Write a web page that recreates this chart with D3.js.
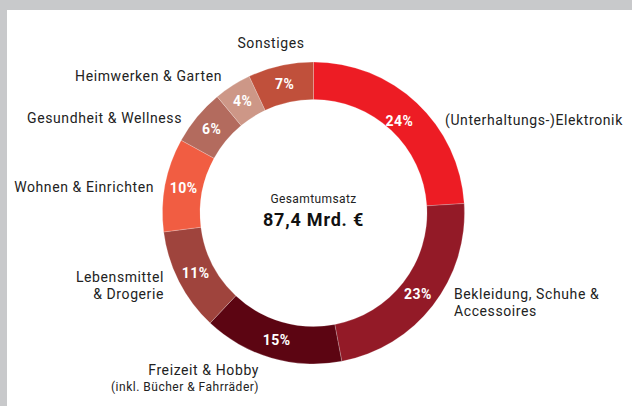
<!DOCTYPE html>
<html>
<head>
<meta charset="utf-8">
<script src="https://cdn.jsdelivr.net/npm/d3@7"></script>
<style>
	html, body { margin: 0; padding: 0; background: #c8c9cb; }
	svg { display: block; }
	text { font-family: Roboto, "DejaVu Sans", sans-serif; }
</style>
</head>
<body>
<svg id="chart" width="632" height="406"></svg>
<script>

// Umsatzanteile in Prozent, im Uhrzeigersinn ab 12 Uhr
var categories = [
	'(Unterhaltungs-)Elektronik',
	'Bekleidung, Schuhe & Accessoires',
	'Freizeit & Hobby',
	'Lebensmittel & Drogerie',
	'Wohnen & Einrichten',
	'Gesundheit & Wellness',
	'Heimwerken & Garten',
	'Sonstiges'
];
var shares = [24, 23, 15, 11, 10, 6, 4, 7];
var colors = ['#ed1c24', '#931a27', '#5c0512', '#9f443d', '#f15d42', '#b36b5e', '#cd9787', '#c0503b'];

// Beschriftungszeilen je Segment
var labelLines = [
	['(Unterhaltungs-)Elektronik'],
	['Bekleidung, Schuhe &', 'Accessoires'],
	['Freizeit & Hobby'],
	['Lebensmittel', '& Drogerie'],
	['Wohnen & Einrichten'],
	['Gesundheit & Wellness'],
	['Heimwerken & Garten'],
	['Sonstiges']
];
var subNote = '(inkl. Bücher & Fahrräder)';
var totalLabel = 'Gesamtumsatz';
var totalValue = '87,4 Mrd. €';

// Position der äußeren Beschriftungen (x, Grundlinie, Ausrichtung)
var labelLayout = [
	{ x: 445, y: 125, anchor: 'start' },
	{ x: 454, y: 299, anchor: 'start' },
	{ x: 259, y: 375, anchor: 'end' },
	{ x: 164, y: 282, anchor: 'end' },
	{ x: 154, y: 192, anchor: 'end' },
	{ x: 182, y: 123, anchor: 'end' },
	{ x: 222, y: 81, anchor: 'end' },
	{ x: 271, y: 48, anchor: 'middle' }
];

var drawChart = function (id) {

	var svg = d3.select(id);

	// weiße Fläche im grauen Rahmen
	svg.append('rect')
		.attr('x', 7)
		.attr('y', 10)
		.attr('width', 625)
		.attr('height', 396)
		.attr('fill', '#ffffff');

	var cx = 313.5, cy = 213;
	var R = 151, r = 113.5;

	var data = shares.map(function (d, i) {
		return { name: categories[i], value: d, color: colors[i], lines: labelLines[i], pos: labelLayout[i] };
	});

	var pie = d3.pie()
		.sort(null)
		.value(function (d) { return d.value; });

	var arc = d3.arc()
		.innerRadius(r)
		.outerRadius(R);

	var labelArc = d3.arc()
		.innerRadius((R + r) / 2)
		.outerRadius((R + r) / 2);

	var g = svg.append('g')
		.attr('transform', 'translate(' + cx + ',' + cy + ')');

	var arcs = pie(data);

	g.selectAll('path')
		.data(arcs)
		.enter()
		.append('path')
		.attr('d', arc)
		.attr('fill', function (d) { return d.data.color; })
		.attr('stroke', 'rgba(255,255,255,0.35)')
		.attr('stroke-width', 0.6);

	// das große Segment trägt seine Zahl etwas weiter innen
	g.selectAll('text.pct')
		.data(arcs)
		.enter()
		.append('text')
		.attr('class', 'pct')
		.attr('x', function (d, i) { return labelArc.centroid(d)[0] * (i === 0 ? 0.95 : 1); })
		.attr('y', function (d, i) { return labelArc.centroid(d)[1] * (i === 0 ? 0.95 : 1); })
		.attr('dy', '0.36em')
		.attr('text-anchor', 'middle')
		.attr('fill', '#ffffff')
		.attr('font-size', 14)
		.attr('font-weight', 'bold')
		.attr('letter-spacing', 0.5)
		.text(function (d) { return d.data.value + '%'; });

	// äußere Beschriftungen
	var labels = svg.selectAll('text.cat')
		.data(data)
		.enter()
		.append('text')
		.attr('class', 'cat')
		.attr('x', function (d) { return d.pos.x; })
		.attr('y', function (d) { return d.pos.y; })
		.attr('text-anchor', function (d) { return d.pos.anchor; })
		.attr('fill', '#222222')
		.attr('font-size', 14)
		.attr('letter-spacing', 0.6);

	labels.selectAll('tspan')
		.data(function (d) { return d.lines.map(function (l) { return { text: l, pos: d.pos }; }); })
		.enter()
		.append('tspan')
		.attr('x', function (d) { return d.pos.x; })
		.attr('dy', function (d, i) { return i === 0 ? 0 : 17; })
		.text(function (d) { return d.text; });

	var freizeit = labelLayout[categories.indexOf('Freizeit & Hobby')];
	svg.append('text')
		.attr('x', freizeit.x)
		.attr('y', freizeit.y + 16)
		.attr('text-anchor', 'end')
		.attr('fill', '#222222')
		.attr('font-size', 12)
		.attr('letter-spacing', 0.5)
		.text(subNote);

	// Mitte
	svg.append('text')
		.attr('x', cx)
		.attr('y', cy - 10)
		.attr('text-anchor', 'middle')
		.attr('fill', '#222222')
		.attr('font-size', 12)
		.attr('letter-spacing', 0.4)
		.text(totalLabel);

	svg.append('text')
		.attr('x', cx)
		.attr('y', cy + 13)
		.attr('text-anchor', 'middle')
		.attr('fill', '#111111')
		.attr('font-size', 18)
		.attr('font-weight', 'bold')
		.attr('letter-spacing', 0.8)
		.text(totalValue);
}

window.onload = function () {
	drawChart('#chart');
}
</script>
</body>
</html>
